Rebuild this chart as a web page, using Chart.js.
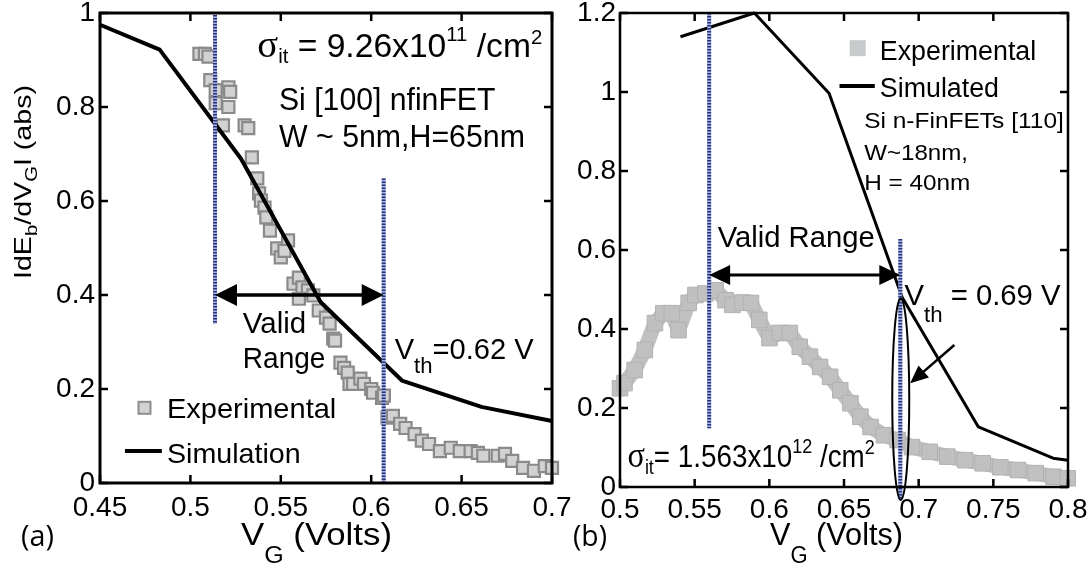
<!DOCTYPE html>
<html>
<head>
<meta charset="utf-8">
<script src="https://cdn.jsdelivr.net/npm/chart.js@4.4.0/dist/chart.umd.min.js"></script>
<style>
  html, body { margin: 0; padding: 0; background: #fff; }
  #wrap { position: relative; width: 1089px; height: 569px; overflow: hidden; }
  #wrap canvas { position: absolute; left: 0; top: 0; }
</style>
</head>
<body>
<div id="wrap">
  <canvas id="chartA" width="1089" height="569"></canvas>
  <canvas id="chartB" width="1089" height="569"></canvas>
</div>
<script>
// ── Panel (a): Si [100] nfinFET ───────────────────────────────
const simAVg   = [0.45, 0.483, 0.528, 0.572, 0.617, 0.661, 0.70];
const simAVals = [0.975, 0.922, 0.69, 0.385, 0.218, 0.162, 0.132];

const expAVg = [0.505, 0.508, 0.510, 0.511, 0.514, 0.521, 0.522, 0.514, 0.521, 0.518,
  0.530, 0.532, 0.534, 0.537, 0.538, 0.539, 0.541, 0.542, 0.544, 0.548,
  0.554, 0.550, 0.552, 0.557, 0.560, 0.562, 0.565, 0.560, 0.568, 0.571,
  0.575, 0.577, 0.579, 0.580, 0.583, 0.585, 0.587, 0.588, 0.590, 0.594,
  0.596, 0.600, 0.601, 0.606, 0.607, 0.609, 0.612, 0.616, 0.619, 0.624,
  0.628, 0.632, 0.638, 0.644, 0.649, 0.655, 0.659, 0.662, 0.670, 0.674,
  0.678, 0.684, 0.690, 0.696, 0.700];
const expAVals = [0.913, 0.913, 0.907, 0.857, 0.836, 0.842, 0.832, 0.808, 0.800, 0.761,
  0.761, 0.755, 0.693, 0.648, 0.616, 0.601, 0.586, 0.565, 0.537, 0.499,
  0.516, 0.480, 0.494, 0.424, 0.437, 0.416, 0.410, 0.392, 0.399, 0.367,
  0.352, 0.339, 0.307, 0.303, 0.256, 0.245, 0.235, 0.211, 0.211, 0.222,
  0.211, 0.200, 0.192, 0.181, 0.186, 0.139, 0.143, 0.126, 0.117, 0.104,
  0.090, 0.083, 0.068, 0.075, 0.068, 0.068, 0.064, 0.058, 0.058, 0.062,
  0.047, 0.032, 0.026, 0.036, 0.032];

const xTicksA      = [0.45, 0.5, 0.55, 0.6, 0.65, 0.7];
const xTickLabelsA = ['0.45', '0.5', '0.55', '0.6', '0.65', '0.7'];
const yTicksA      = [0, 0.2, 0.4, 0.6, 0.8, 1];
const yTickLabelsA = ['0', '0.2', '0.4', '0.6', '0.8', '1'];

// ── Panel (b): Si n-FinFETs [110] ─────────────────────────────
const simBVg   = [0.5405, 0.59, 0.64, 0.689, 0.74, 0.79, 0.80];
const simBVals = [1.14, 1.2, 0.997, 0.48, 0.152, 0.073, 0.068];

const expBVg = [0.500, 0.503, 0.5098, 0.5166, 0.5234, 0.529, 0.5347, 0.5392, 0.546, 0.5505,
  0.5572, 0.564, 0.5707, 0.5753, 0.582, 0.5877, 0.5933, 0.6001, 0.6069, 0.6137,
  0.6204, 0.6272, 0.634, 0.6407, 0.6475, 0.6543, 0.661, 0.6678, 0.6768, 0.6859,
  0.6955, 0.7074, 0.7192, 0.7311, 0.7429, 0.7547, 0.7666, 0.7784, 0.7903, 0.7998];
const expBVals = [0.25, 0.263, 0.296, 0.347, 0.415, 0.44, 0.44, 0.397, 0.466, 0.486,
  0.49, 0.498, 0.473, 0.461, 0.467, 0.466, 0.423, 0.377, 0.39, 0.39,
  0.355, 0.33, 0.304, 0.279, 0.245, 0.212, 0.178, 0.152, 0.131, 0.119,
  0.101, 0.089, 0.077, 0.068, 0.06, 0.05, 0.043, 0.035, 0.026, 0.022];

const xTicksB      = [0.5, 0.55, 0.6, 0.65, 0.7, 0.75, 0.8];
const xTickLabelsB = ['0.5', '0.55', '0.6', '0.65', '0.7', '0.75', '0.8'];
const yTicksB      = [0, 0.2, 0.4, 0.6, 0.8, 1, 1.2];
const yTickLabelsB = ['0', '0.2', '0.4', '0.6', '0.8', '1', '1.2'];

// ── Drawing helpers ───────────────────────────────────────────
const SANS  = '"Liberation Sans", Arial, Helvetica, sans-serif';
const SERIF = '"Liberation Serif", "Times New Roman", serif';
const OPEN  = '"Open Sans", sans-serif';

Chart.defaults.font.family = SANS;
Chart.defaults.color = '#000';

const pts = (xs, ys) => xs.map((x, i) => ({ x, y: ys[i] }));

// parts: [text, sizePx, dy, family]; squeezed horizontally to `width` if given
function rich(ctx, parts, x, y, width) {
  let natural = 0;
  for (const p of parts) {
    ctx.font = p[1] + 'px ' + (p[3] || SANS);
    natural += ctx.measureText(p[0]).width;
  }
  const sx = width ? width / natural : 1;
  ctx.save();
  ctx.translate(x, y);
  ctx.scale(sx, 1);
  ctx.fillStyle = '#000';
  ctx.textAlign = 'left';
  ctx.textBaseline = 'alphabetic';
  let cx = 0;
  for (const p of parts) {
    ctx.font = p[1] + 'px ' + (p[3] || SANS);
    ctx.fillText(p[0], cx, p[2] || 0);
    cx += ctx.measureText(p[0]).width;
  }
  ctx.restore();
}

// text anchored in axis units: from x0 to x1, baseline at yv
function note(chart, parts, x0, x1, yv) {
  const xs = chart.scales.x, ys = chart.scales.y;
  const a = xs.getPixelForValue(x0), b = xs.getPixelForValue(x1);
  rich(chart.ctx, parts, a, ys.getPixelForValue(yv), b - a);
}

function dottedLine(chart, xv, y0, y1) {
  const ctx = chart.ctx;
  const px = chart.scales.x.getPixelForValue(xv);
  const p0 = chart.scales.y.getPixelForValue(y0), p1 = chart.scales.y.getPixelForValue(y1);
  ctx.save();
  ctx.lineWidth = 4;
  ctx.strokeStyle = '#a7b1dc';
  ctx.beginPath(); ctx.moveTo(px, p0); ctx.lineTo(px, p1); ctx.stroke();
  ctx.strokeStyle = '#27357f';
  ctx.setLineDash([1.5, 1.5]);
  ctx.stroke();
  ctx.restore();
}

function arrowHead(ctx, tx, ty, ang, len, half) {
  const c = Math.cos(ang), s = Math.sin(ang);
  ctx.beginPath();
  ctx.moveTo(tx, ty);
  ctx.lineTo(tx - len * c + half * s, ty - len * s - half * c);
  ctx.lineTo(tx - len * c - half * s, ty - len * s + half * c);
  ctx.closePath();
  ctx.fill();
}

function doubleArrow(chart, x0, x1, yv, lw, len, half) {
  const ctx = chart.ctx, xs = chart.scales.x, ys = chart.scales.y;
  const a = xs.getPixelForValue(x0), b = xs.getPixelForValue(x1), y = ys.getPixelForValue(yv);
  ctx.save();
  ctx.strokeStyle = ctx.fillStyle = '#000';
  ctx.lineWidth = lw;
  ctx.beginPath(); ctx.moveTo(a + len * 0.8, y); ctx.lineTo(b - len * 0.8, y); ctx.stroke();
  arrowHead(ctx, a, y, Math.PI, len, half);
  arrowHead(ctx, b, y, 0, len, half);
  ctx.restore();
}

// MATLAB-style box with inward ticks on all four sides
function frame(chart, xTicks, yTicks, lw, tick) {
  const ctx = chart.ctx, a = chart.chartArea, xs = chart.scales.x, ys = chart.scales.y;
  ctx.save();
  ctx.strokeStyle = '#000';
  ctx.lineWidth = 2.5;
  ctx.beginPath();
  for (const v of xTicks) {
    const p = xs.getPixelForValue(v);
    ctx.moveTo(p, a.bottom); ctx.lineTo(p, a.bottom - tick);
    ctx.moveTo(p, a.top);    ctx.lineTo(p, a.top + tick);
  }
  for (const v of yTicks) {
    const p = ys.getPixelForValue(v);
    ctx.moveTo(a.left, p);  ctx.lineTo(a.left + tick, p);
    ctx.moveTo(a.right, p); ctx.lineTo(a.right - tick, p);
  }
  ctx.stroke();
  ctx.lineWidth = lw;
  ctx.strokeRect(a.left, a.top, a.right - a.left, a.bottom - a.top);
  ctx.restore();
}

function squareAt(chart, xv, yv, side, fill, stroke, lw) {
  const ctx = chart.ctx;
  const px = chart.scales.x.getPixelForValue(xv), py = chart.scales.y.getPixelForValue(yv);
  ctx.save();
  ctx.fillStyle = fill;
  ctx.fillRect(px - side / 2, py - side / 2, side, side);
  if (stroke) { ctx.strokeStyle = stroke; ctx.lineWidth = lw; ctx.strokeRect(px - side / 2, py - side / 2, side, side); }
  ctx.restore();
}

function legendLine(chart, x0, x1, yv, lw) {
  const ctx = chart.ctx, xs = chart.scales.x, ys = chart.scales.y;
  ctx.save();
  ctx.strokeStyle = '#000'; ctx.lineWidth = lw;
  ctx.beginPath();
  ctx.moveTo(xs.getPixelForValue(x0), ys.getPixelForValue(yv));
  ctx.lineTo(xs.getPixelForValue(x1), ys.getPixelForValue(yv));
  ctx.stroke();
  ctx.restore();
}

function axisScales(xMin, xMax, xTicks, xLabels, yMin, yMax, yTicks, yLabels, yWidth, xHeight, xPad, yPad) {
  const tickFont = { family: SANS, size: 28 };
  return {
    x: {
      type: 'linear', min: xMin, max: xMax,
      afterBuildTicks: (s) => { s.ticks = xTicks.map(v => ({ value: v })); },
      afterFit: (s) => { s.height = xHeight; s.paddingLeft = 0; s.paddingRight = 0; },
      grid: { display: false, drawTicks: false },
      border: { display: false },
      ticks: { callback: (v, i) => xLabels[i], font: tickFont, color: '#000', padding: xPad, maxRotation: 0, autoSkip: false },
    },
    y: {
      type: 'linear', min: yMin, max: yMax,
      afterBuildTicks: (s) => { s.ticks = yTicks.map(v => ({ value: v })); },
      afterFit: (s) => { s.width = yWidth; s.paddingTop = 0; s.paddingBottom = 0; },
      grid: { display: false, drawTicks: false },
      border: { display: false },
      ticks: { callback: (v, i) => yLabels[i], font: tickFont, color: '#000', padding: yPad, autoSkip: false },
    },
  };
}

// ── Panel (a) decorations ─────────────────────────────────────
const decorA = {
  id: 'decorA',
  afterDatasetsDraw(chart) {
    const ctx = chart.ctx;
    dottedLine(chart, 0.5136, 0.996, 0.339);
    dottedLine(chart, 0.6069, 0.648, 0);
    doubleArrow(chart, 0.5136, 0.6069, 0.40, 3.5, 22, 11);
    frame(chart, xTicksA, yTicksA, 3, 8);

    note(chart, [['σ', 38, 0, SERIF], ['it', 20, 6], [' = 9.26x10', 33], ['11', 20, -16], [' /cm', 33], ['2', 20, -13]],
      0.537, 0.6946, 0.906);
    note(chart, [['Si [100] nfinFET', 31]], 0.549, 0.6687, 0.793);
    note(chart, [['W ~ 5nm,H=65nm', 31]], 0.549, 0.685, 0.714);
    note(chart, [['Valid', 29]], 0.529, 0.564, 0.32);
    note(chart, [['Range', 29]], 0.529, 0.5747, 0.245);
    note(chart, [['V', 29], ['th', 22, 14], ['=0.62 V', 29]], 0.613, 0.6898, 0.264);

    // legend
    squareAt(chart, 0.4746, 0.16, 12, '#d2d2d2', '#8d8d8d', 2);
    note(chart, [['Experimental', 28]], 0.487, 0.5807, 0.1386);
    legendLine(chart, 0.4638, 0.4842, 0.068, 4);
    note(chart, [['Simulation', 28]], 0.487, 0.561, 0.0426);

    // axis titles and panel tag
    rich(ctx, [['V', 32], ['G', 23, 18], [' (Volts)', 32]], 241, 545, 151);
    ctx.save();
    ctx.translate(31, 279);
    ctx.rotate(-Math.PI / 2);
    rich(ctx, [['IdE', 24], ['b', 17, 6], ['/dV', 24], ['G', 17, 6], ['I (abs)', 24]], 0, 0, 194);
    ctx.restore();
    rich(ctx, [['(a)', 29, 0, OPEN]], 21, 546, 33);
  },
};

// ── Panel (b) decorations ─────────────────────────────────────
const decorB = {
  id: 'decorB',
  afterDatasetsDraw(chart) {
    const ctx = chart.ctx, xs = chart.scales.x, ys = chart.scales.y;
    dottedLine(chart, 0.5597, 1.2, 0.149);
    dottedLine(chart, 0.6877, 0.628, -0.033);
    doubleArrow(chart, 0.5597, 0.6877, 0.537, 3, 21, 10);

    // ellipse around the threshold point
    ctx.save();
    ctx.strokeStyle = '#000'; ctx.lineWidth = 2;
    const top = ys.getPixelForValue(0.478), bot = ys.getPixelForValue(-0.033);
    ctx.beginPath();
    ctx.ellipse(xs.getPixelForValue(0.688), (top + bot) / 2, 8.5, (bot - top) / 2, 0, 0, Math.PI * 2);
    ctx.stroke();
    // pointer arrow
    const ax = xs.getPixelForValue(0.7239), ay = ys.getPixelForValue(0.3595);
    const tx = xs.getPixelForValue(0.6943), ty = ys.getPixelForValue(0.2625);
    const ang = Math.atan2(ty - ay, tx - ax);
    ctx.lineWidth = 2.5;
    ctx.beginPath(); ctx.moveTo(ax, ay); ctx.lineTo(tx - 14 * Math.cos(ang), ty - 14 * Math.sin(ang)); ctx.stroke();
    ctx.fillStyle = '#000';
    arrowHead(ctx, tx, ty, ang, 18, 8);
    ctx.restore();

    frame(chart, xTicksB, yTicksB, 2.5, 8);

    squareAt(chart, 0.6592, 1.111, 16, '#c8cbcb');
    note(chart, [['Experimental', 27]], 0.674, 0.7787, 1.081);
    legendLine(chart, 0.647, 0.6706, 1.015, 4);
    note(chart, [['Simulated', 27]], 0.674, 0.7538, 0.987);
    note(chart, [['Si n-FinFETs [110]', 22]], 0.6635, 0.7972, 0.91);
    note(chart, [['W~18nm,', 22]], 0.6635, 0.733, 0.828);
    note(chart, [['H = 40nm', 22]], 0.6635, 0.7346, 0.752);
    note(chart, [['Valid Range', 29]], 0.5654, 0.6706, 0.608);
    note(chart, [['V', 29], ['th', 22, 17], [' = 0.69 V', 29]], 0.6905, 0.795, 0.461);
    note(chart, [['σ', 36, 0, SERIF], ['it', 20, 7], ['= 1.563x10', 31], ['12', 20, -14], [' /cm', 31], ['2', 20, -13]],
      0.505, 0.6706, 0.05);

    rich(ctx, [['V', 32], ['G', 23, 18], [' (Volts)', 32]], 770, 545, 133);
    rich(ctx, [['(b)', 29, 0, OPEN]], 573, 546, 34);
  },
};

const baseOptions = {
  responsive: false,
  animation: false,
  events: [],
  plugins: { legend: { display: false }, tooltip: { enabled: false } },
};

new Chart(document.getElementById('chartA'), {
  type: 'scatter',
  data: {
    datasets: [
      {
        label: 'Simulation',
        data: pts(simAVg, simAVals),
        showLine: true, borderColor: '#000', borderWidth: 4, pointRadius: 0,
        borderJoinStyle: 'round', clip: false,
      },
      {
        label: 'Experimental',
        data: pts(expAVg, expAVals),
        pointStyle: 'rect', pointRadius: 8.5,
        pointBackgroundColor: '#d2d2d2', pointBorderColor: '#8a8a8a', pointBorderWidth: 2.2,
        clip: false,
      },
    ],
  },
  options: {
    ...baseOptions,
    layout: { padding: { left: 0, top: 13, right: 1089 - 552, bottom: 0 } },
    scales: axisScales(0.45, 0.7, xTicksA, xTickLabelsA, 0, 1, yTicksA, yTickLabelsA, 100, 569 - 483, 8, 5),
  },
  plugins: [decorA],
});

new Chart(document.getElementById('chartB'), {
  type: 'scatter',
  data: {
    datasets: [
      {
        label: 'Simulated',
        data: pts(simBVg, simBVals),
        showLine: true, borderColor: '#000', borderWidth: 3, pointRadius: 0,
        borderJoinStyle: 'round', clip: false,
      },
      {
        label: 'Experimental',
        data: pts(expBVg, expBVals),
        showLine: true, borderColor: '#c0c0c0', borderWidth: 15, borderJoinStyle: 'round',
        pointStyle: 'rect', pointRadius: 11,
        pointBackgroundColor: '#c0c0c0', pointBorderColor: '#b2b2b2', pointBorderWidth: 1,
        clip: false,
      },
    ],
  },
  options: {
    ...baseOptions,
    layout: { padding: { left: 620 - 60, top: 13, right: 1089 - 1068, bottom: 0 } },
    scales: axisScales(0.5, 0.8, xTicksB, xTickLabelsB, 0, 1.2, yTicksB, yTickLabelsB, 60, 569 - 487, 6, 4),
  },
  plugins: [decorB],
});
</script>
</body>
</html>
